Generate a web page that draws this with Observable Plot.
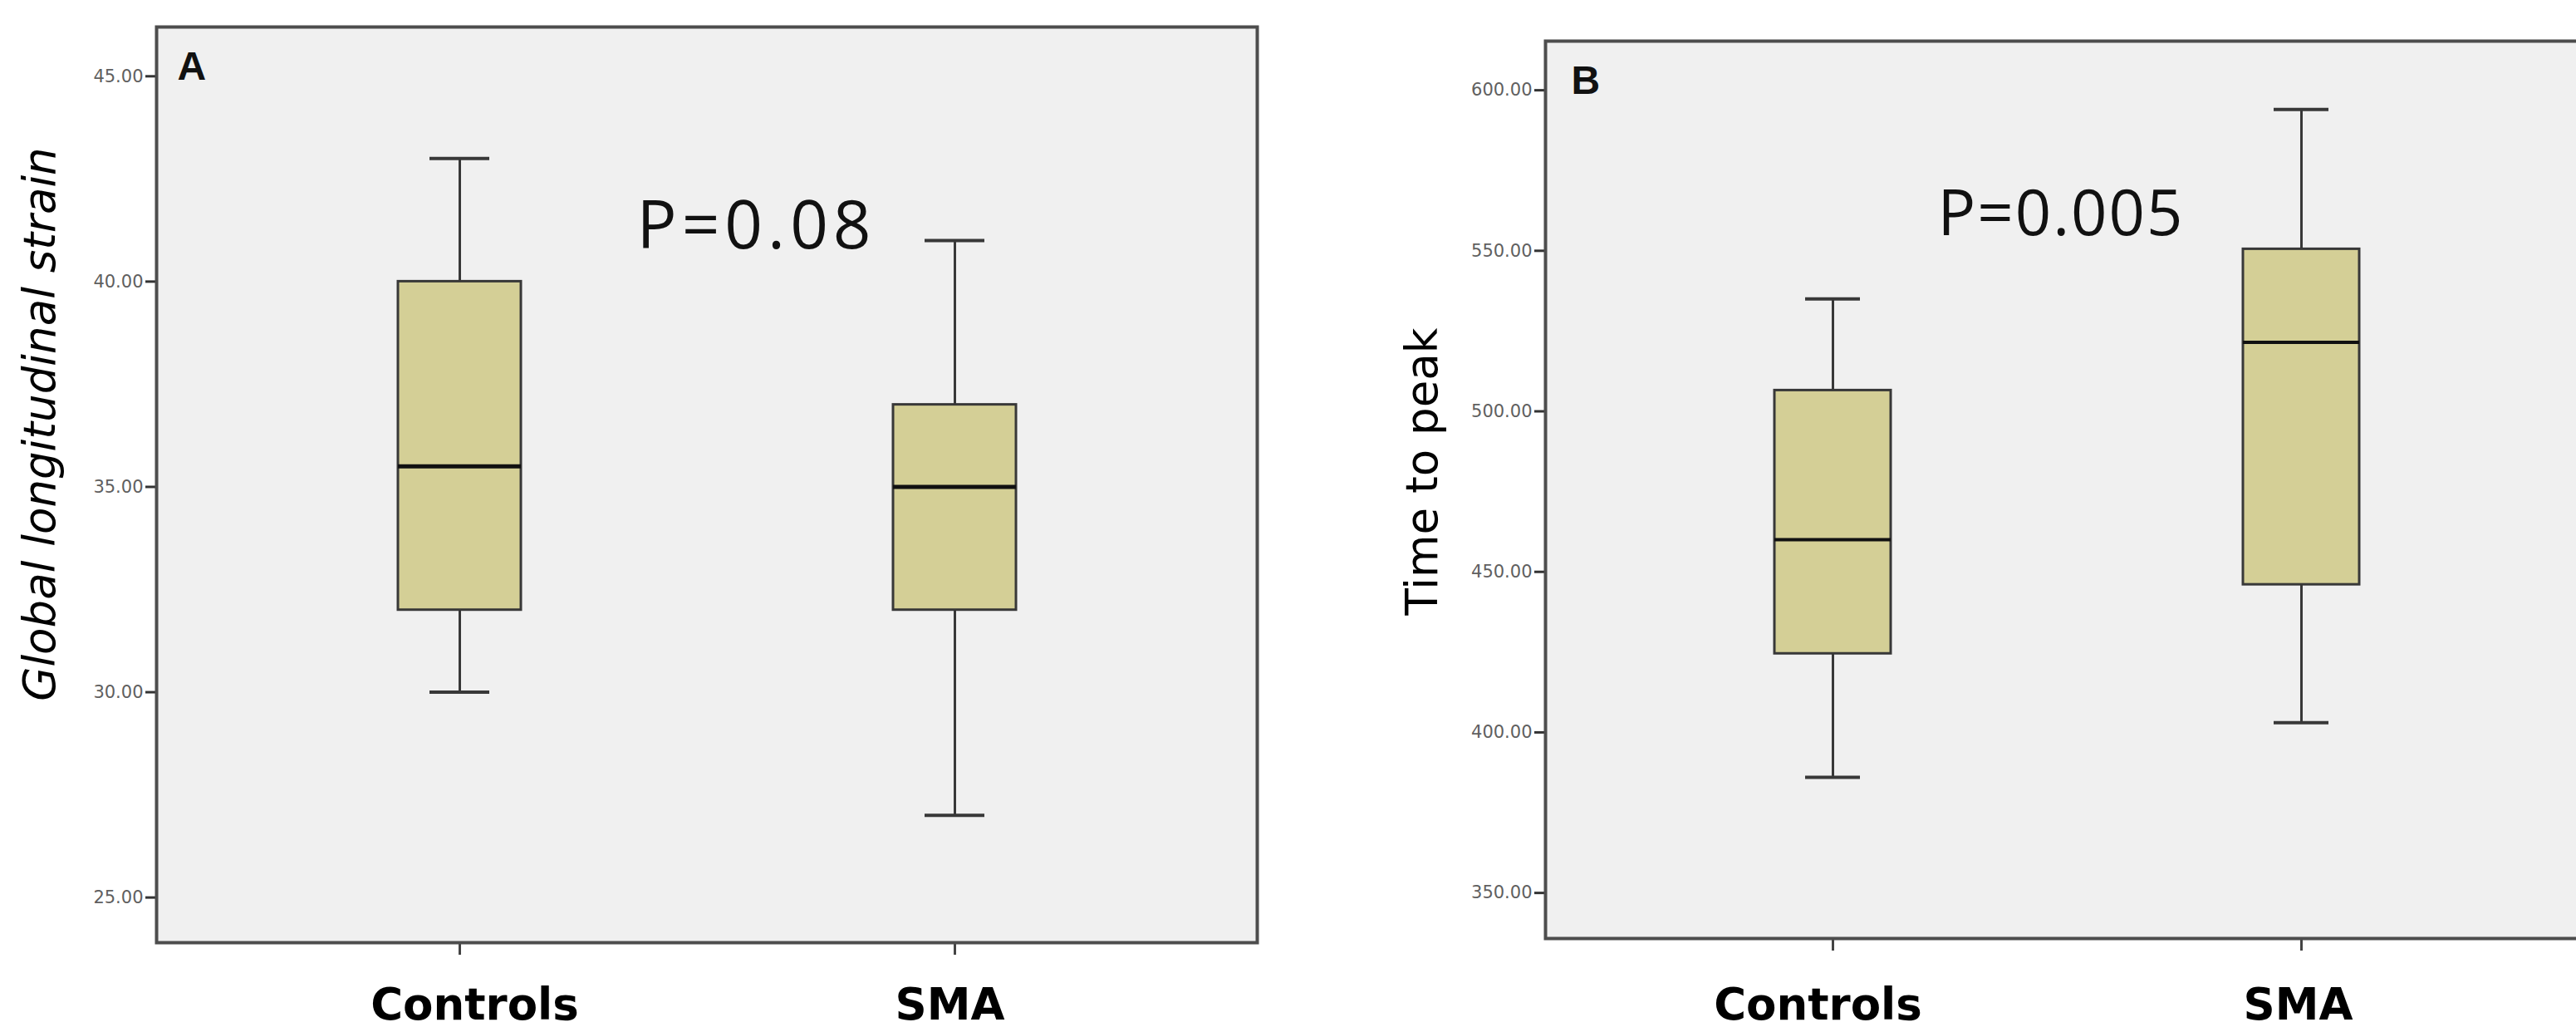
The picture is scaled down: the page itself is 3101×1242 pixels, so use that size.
<!DOCTYPE html>
<html><head><meta charset="utf-8">
<script src="https://cdn.jsdelivr.net/npm/d3@7"></script>
<script src="https://cdn.jsdelivr.net/npm/@observablehq/plot@0.6"></script>
<style>
html,body{margin:0;padding:0;background:#fff;overflow:hidden;width:3101px;height:1242px;}
#wrap{position:relative;width:3101px;height:1242px;overflow:hidden;}
#a{position:absolute;left:0;top:0;width:1560px;height:1242px;}
#b{position:absolute;left:1560px;top:0;width:1575px;height:1242px;}
#a svg,#b svg{max-width:none !important;}
</style></head><body><div id="wrap"><div id="a"></div><div id="b"></div></div>
<script>
// Categories
const groups = ["Controls", "SMA"];
// Panel A: Global longitudinal strain (box-plot summaries)
const glsLow  = [30, 27];
const glsQ1   = [32, 32];
const glsMed  = [35.5, 35];
const glsQ3   = [40, 37];
const glsHigh = [43, 41];
const glsTicks = [25, 30, 35, 40, 45];
// Panel B: Time to peak
const ttpLow  = [386, 403];
const ttpQ1   = [424.5, 446];
const ttpMed  = [460, 521.5];
const ttpQ3   = [506.5, 550.5];
const ttpHigh = [535, 594];
const ttpTicks = [350, 400, 450, 500, 550, 600];

function rowsOf(low, q1, med, q3, high) {
  return groups.map((g, i) => ({group: g, low: low[i], q1: q1[i], med: med[i], q3: q3[i], high: high[i]}));
}

const boxFill = "#d4cf96", dark = "#383838";

function panel(o) {
  const rows = rowsOf(...o.series);
  const labelOpts = {tickSize: 0, tickPadding: 15 + o.xpad, fontSize: 53, fontWeight: "bold", fill: "#000", label: null};
  const svg = Plot.plot({
    width: o.width, height: 1242,
    marginLeft: o.ml, marginRight: o.mr, marginTop: o.mt, marginBottom: o.mb,
    style: {background: "transparent", fontFamily: "DejaVu Sans", overflow: "visible", maxWidth: "none"},
    x: {type: "band", domain: groups, paddingInner: 0.752, paddingOuter: 0.4875, axis: null, label: null},
    y: {domain: o.yDomain, axis: null, label: null},
    marks: [
      Plot.frame({fill: "#f0f0f0", stroke: null}),
      Plot.ruleX(rows, {x: "group", y1: "q3", y2: "high", stroke: dark, strokeWidth: 3}),
      Plot.ruleX(rows, {x: "group", y1: "low", y2: "q1", stroke: dark, strokeWidth: 3}),
      Plot.tickY(rows, {x: "group", y: "high", insetLeft: o.capInset, insetRight: o.capInset, stroke: dark, strokeWidth: 4}),
      Plot.tickY(rows, {x: "group", y: "low", insetLeft: o.capInset, insetRight: o.capInset, stroke: dark, strokeWidth: 4}),
      Plot.barY(rows, {x: "group", y1: "q1", y2: "q3", fill: boxFill, stroke: dark, strokeWidth: 3}),
      Plot.tickY(rows, {x: "group", y: "med", stroke: "#111", strokeWidth: o.medW}),
      Plot.axisY({ticks: o.ticks, tickFormat: d3.format(".2f"), tickSize: 13, tickPadding: 3,
        fontSize: 21, fill: "#606060", stroke: "#333", strokeWidth: 3, label: null}),
      Plot.axisX({tickSize: 15, tickFormat: null, stroke: "#444", strokeWidth: 3, label: null}),
      Plot.axisX({...labelOpts, ticks: [groups[0]], dx: o.cdx}),
      Plot.axisX({...labelOpts, ticks: [groups[1]], dx: o.sdx}),
      Plot.frame({stroke: "#4d4d4d", strokeWidth: 4}),
      Plot.text([o.title], {frameAnchor: "left", textAnchor: "middle", lineAnchor: "middle", rotate: -90,
        dx: o.tdx, dy: o.tdy, fontSize: 53, fontStyle: o.italic ? "italic" : "normal", fill: "#000"}),
      Plot.text([o.letter], {frameAnchor: "top-left", textAnchor: "start", lineAnchor: "bottom",
        dx: o.ldx, dy: o.ldy, fontSize: 48, fontWeight: "bold", fontFamily: "Liberation Sans", fill: "#111"}),
      Plot.text([o.pval], {frameAnchor: "top-left", textAnchor: "start", lineAnchor: "bottom",
        dx: o.pdx, dy: o.pdy, fontSize: o.pfs, fontFamily: "Open Sans", fill: "#111"})
    ]
  });
  svg.querySelectorAll("text").forEach(t => {
    if (t.textContent === o.pval) t.setAttribute("letter-spacing", o.pls);
  });
  return svg;
}

document.getElementById("a").append(panel({
  series: [glsLow, glsQ1, glsMed, glsQ3, glsHigh],
  width: 1560, ml: 188, mr: 47, mt: 32, mb: 108,
  yDomain: [23.9, 46.2], ticks: glsTicks, capInset: 38, medW: 5, xpad: 40, cdx: 18, sdx: -6,
  title: "Global longitudinal strain", italic: true, tdx: -139, tdy: -73,
  letter: "A", ldx: 25, ldy: 63,
  pval: "P=0.08", pdx: 578, pdy: 266, pfs: 80, pls: 6
}));

document.getElementById("b").append(panel({
  series: [ttpLow, ttpQ1, ttpMed, ttpQ3, ttpHigh],
  width: 1575, ml: 300, mr: 20, mt: 49, mb: 113,
  yDomain: [335.8, 615.3], ticks: ttpTicks, capInset: 37, medW: 4, xpad: 45, cdx: -18, sdx: -4,
  title: "Time to peak", italic: false, tdx: -147, tdy: -22,
  letter: "B", ldx: 31, ldy: 63,
  pval: "P=0.005", pdx: 472, pdy: 233, pfs: 76, pls: 2
}));
</script>
</body></html>
